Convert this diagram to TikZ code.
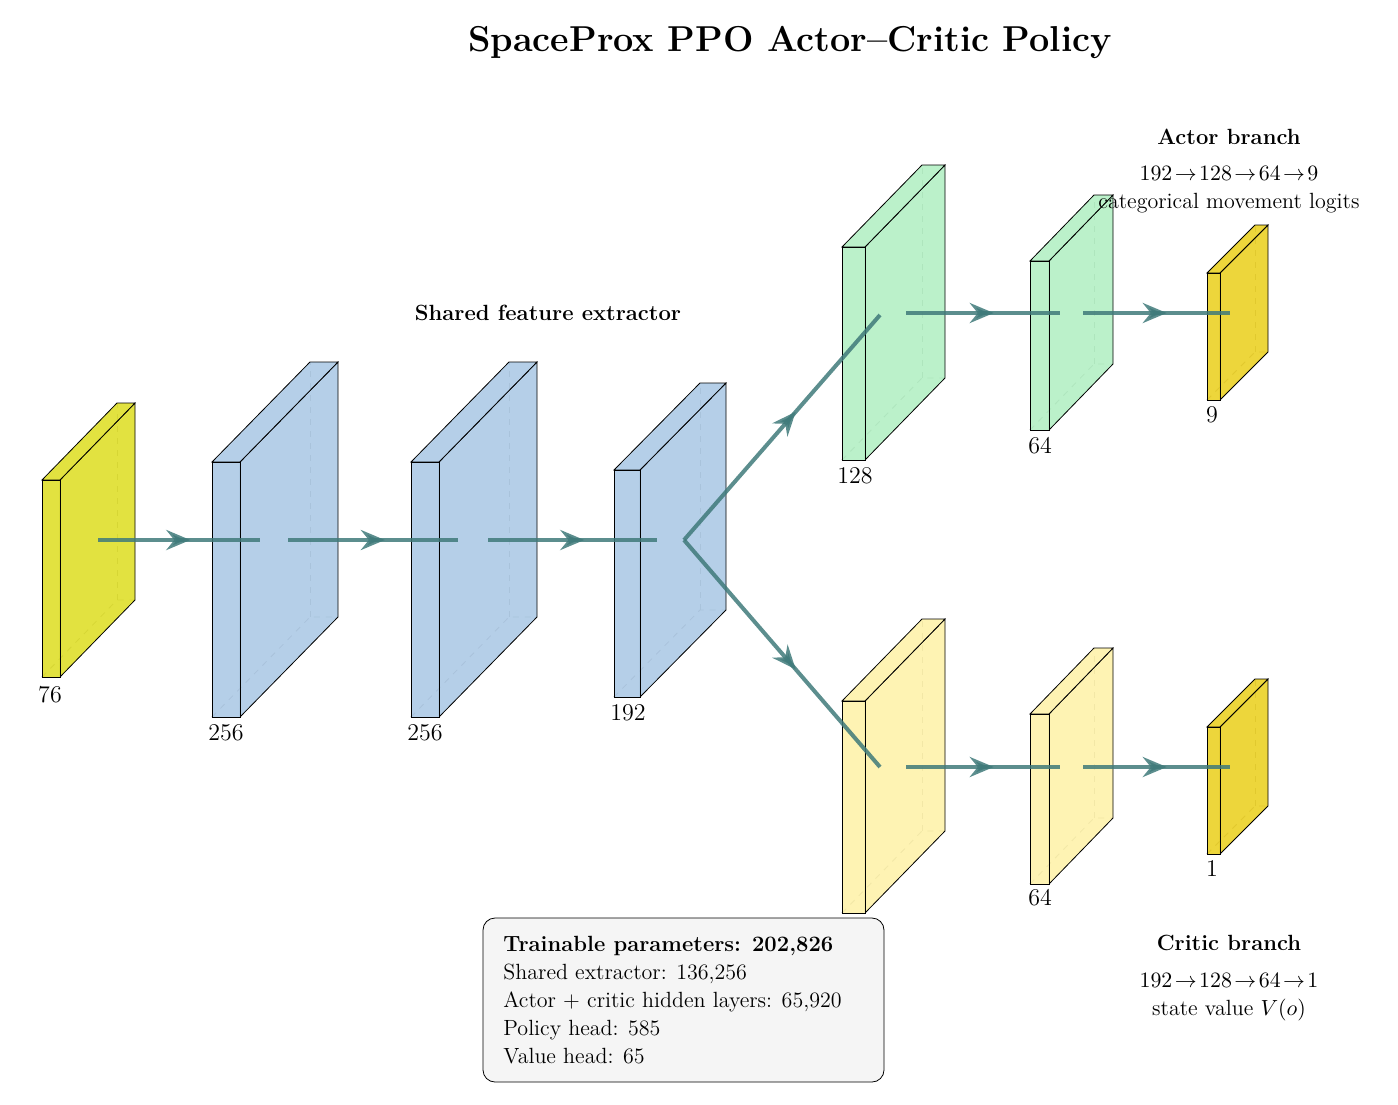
\documentclass[tikz,border=0pt]{standalone}
\usetikzlibrary{arrows.meta,decorations.markings}
\definecolor{inyel}{HTML}{E0E030}
\definecolor{lblue}{HTML}{AFCBE6}
\definecolor{lgreen}{HTML}{B5F0C5}
\definecolor{pyel}{HTML}{FEF2AC}
\definecolor{gold}{HTML}{ECD22A}
\definecolor{conncol}{HTML}{3F7A7A}
\newcommand{\mylayer}[8]{%
  \draw[dashed,black!60,thin] (#2,#3+#5) -- ++(#6,#7) -- ++(#4,0);
  \draw[dashed,black!60,thin] (#2+#6,#3+#5+#7) -- ++(0,-#5);
  \filldraw[fill=#8,fill opacity=0.92,thin] (#2+#4,#3) -- ++(#6,#7) -- ++(0,#5) -- ++(-#6,-#7) -- cycle;
  \filldraw[fill=#8,fill opacity=0.92,thin] (#2,#3) -- ++(#6,#7) -- ++(#4,0) -- ++(-#6,-#7) -- cycle;
  \filldraw[fill=#8,fill opacity=0.92,thin] (#2,#3) rectangle ++(#4,#5);
  \coordinate (#1) at (#2,#3+#5);
}
\newcommand{\midfont}{\fontsize{11}{14}\selectfont}
\begin{document}
\begin{tikzpicture}[x=0.5pt,y=-0.5pt,
  conn/.style={line width=2pt,conncol,opacity=0.85,postaction={decorate},
    decoration={markings,mark=at position 0.57 with {\arrow{Stealth[length=12pt,width=10pt,inset=4pt]}}}},
  lab/.style={anchor=north,inner sep=1pt,font=\fontsize{12}{14}\selectfont},
  note/.style={align=center,font=\midfont}]
\useasboundingbox (0,0) rectangle (1398,1104);
\node[font=\fontsize{18}{22}\selectfont\bfseries] (title) at (790,42) {SpaceProx PPO Actor--Critic Policy};

\mylayer{L0}{42}{480}{18}{197}{75}{-77}{inyel}
\mylayer{L1}{212}{462}{28}{255}{98}{-100}{lblue}
\mylayer{L2}{411}{462}{28}{255}{98}{-100}{lblue}
\mylayer{L3}{614}{470}{26}{227}{86}{-87}{lblue}
\mylayer{A1}{842}{247}{23}{213}{80}{-82}{lgreen}
\mylayer{A2}{1030}{261}{19}{169}{64}{-66}{lgreen}
\mylayer{A3}{1207}{273}{13}{127}{48}{-48}{gold}
\mylayer{C1}{842}{701}{23}{212}{80}{-82}{pyel}
\mylayer{C2}{1030}{714}{19}{170}{64}{-66}{pyel}
\mylayer{C3}{1207}{727}{13}{127}{48}{-48}{gold}

\node[lab] (t0) at (50,684) {76};
\node[lab] (t1) at (226,722) {256};
\node[lab] (t2) at (425,722) {256};
\node[lab] (t3) at (628,702) {192};
\node[lab] (ta1) at (855,465) {128};
\node[lab] (ta2) at (1040,435) {64};
\node[lab] (ta3) at (1212,404) {9};
\node[lab] (tc2) at (1040,887) {64};
\node[lab] (tc3) at (1212,858) {1};

\coordinate (s1) at (98,540); \coordinate (e1) at (260,540);
\coordinate (s2) at (288,540); \coordinate (e2) at (458,540);
\coordinate (s3) at (488,540); \coordinate (e3) at (657,540);
\coordinate (br) at (684,540);
\coordinate (ba) at (880,315); \coordinate (bc) at (880,767);
\coordinate (sa1) at (906,313); \coordinate (ea1) at (1060,313);
\coordinate (sa2) at (1083,313); \coordinate (ea2) at (1230,313);
\coordinate (sc1) at (906,767); \coordinate (ec1) at (1060,767);
\coordinate (sc2) at (1083,767); \coordinate (ec2) at (1230,767);
\draw[conn] (s1) -- (e1);
\draw[conn] (s2) -- (e2);
\draw[conn] (s3) -- (e3);
\draw[conn] (br) -- (ba);
\draw[conn] (br) -- (bc);
\draw[conn] (sa1) -- (ea1);
\draw[conn] (sa2) -- (ea2);
\draw[conn] (sc1) -- (ec1);
\draw[conn] (sc2) -- (ec2);

\node[font=\midfont\bfseries] (shared) at (548,313) {Shared feature extractor};
\node[font=\midfont\bfseries] (actor) at (1229,137) {Actor branch};
\node[note] (actortxt) at (1229,190) {$192\!\rightarrow\!128\!\rightarrow\!64\!\rightarrow\!9$\\categorical movement logits};
\node[font=\midfont\bfseries] (critic) at (1229,943) {Critic branch};
\node[note] (critictxt) at (1229,997) {$192\!\rightarrow\!128\!\rightarrow\!64\!\rightarrow\!1$\\state value $V(o)$};

\draw[rounded corners=6pt,fill=black!4,thin] (483,918) rectangle (884,1082);
\node[anchor=north west,align=left,font=\midfont,inner sep=0pt] (params) at (503,936)
 {\textbf{Trainable parameters: 202,826}\\
  Shared extractor: 136,256\\
  Actor + critic hidden layers: 65,920\\
  Policy head: 585\\
  Value head: 65};
\end{tikzpicture}
\end{document}
